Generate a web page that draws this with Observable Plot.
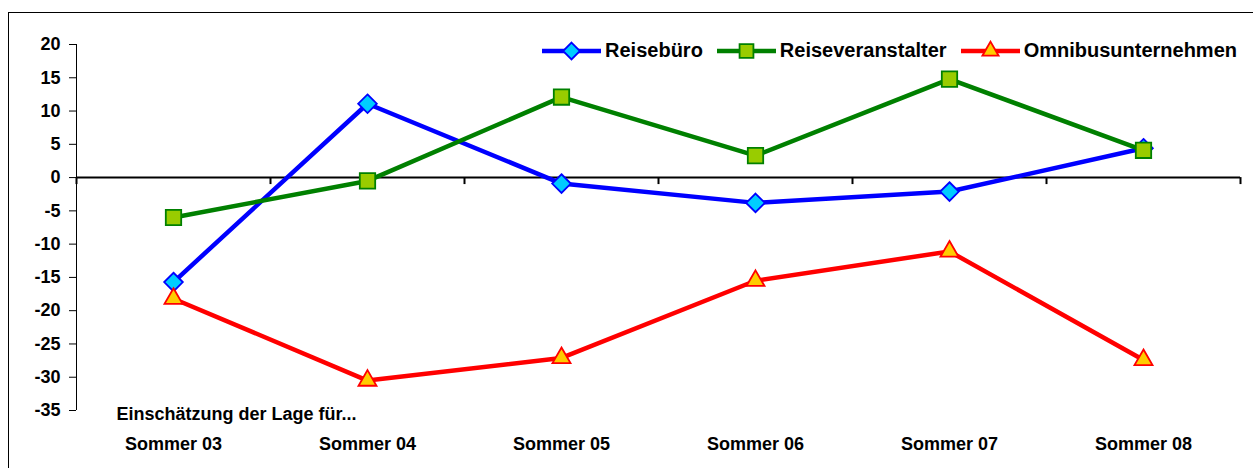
<!DOCTYPE html>
<html>
<head>
<meta charset="utf-8">
<script src="https://cdn.jsdelivr.net/npm/d3@7"></script>
<script src="https://cdn.jsdelivr.net/npm/@observablehq/plot@0.6"></script>
<style>
  html, body { margin: 0; padding: 0; background: #fff; }
  body { width: 1253px; height: 468px; position: relative; overflow: hidden; font-family: "Liberation Sans", Arial, sans-serif; }
  #frame { position: absolute; left: 8px; top: 12px; right: -20px; bottom: -20px; border: 1.5px solid #000; pointer-events: none; }
  #chart { position: absolute; left: 0; top: 0; }
  #legend { position: absolute; top: 39px; right: 16px; display: flex; align-items: center; gap: 14px; font-size: 20px; font-weight: bold; color: #000; }
  .item { display: flex; align-items: center; }
  .item span { margin-left: 4px; }
</style>
</head>
<body>
<div id="chart"></div>
<div id="frame"></div>
<div id="legend"></div>
<script>
// ---- data ----
const categories = ["Sommer 03", "Sommer 04", "Sommer 05", "Sommer 06", "Sommer 07", "Sommer 08"];
const reisebuero = [-15.7, 11.1, -0.9, -3.8, -2.1, 4.4];
const reiseveranstalter = [-6.0, -0.5, 12.1, 3.3, 14.8, 4.1];
const omnibus = [-18.2, -30.5, -27.1, -15.5, -11.1, -27.4];
const seriesNames = ["Reisebüro", "Reiseveranstalter", "Omnibusunternehmen"];
const yTicks = [20, 15, 10, 5, 0, -5, -10, -15, -20, -25, -30, -35];
const xNote = "Einschätzung der Lage für...";

// ---- styles ----
const seriesStyle = [
  {values: reisebuero, stroke: "#0000ff", fill: "#00ccff", symbol: "diamond2", d3symbol: d3.symbolDiamond2, r: 8.4},
  {values: reiseveranstalter, stroke: "#008000", fill: "#99cc00", symbol: "square2", d3symbol: d3.symbolSquare2, r: 9.8},
  {values: omnibus, stroke: "#ff0000", fill: "#ffcc00", symbol: "triangle2", d3symbol: d3.symbolTriangle2, r: 8.6}
];

const rows = seriesNames.map((name, s) =>
  categories.map((c, i) => ({series: name, i, cat: c, value: seriesStyle[s].values[i]}))
);
const boundaries = d3.range(categories.length + 1).map(k => k - 0.5);

const seriesMarks = rows.flatMap((data, s) => [
  Plot.line(data, {x: "i", y: "value", stroke: seriesStyle[s].stroke, strokeWidth: 4.5, strokeLinejoin: "round"}),
  Plot.dot(data, {x: "i", y: "value", symbol: () => seriesStyle[s].symbol, r: seriesStyle[s].r,
    fill: seriesStyle[s].fill, stroke: seriesStyle[s].stroke, strokeWidth: 1.8})
]);

const chart = Plot.plot({
  width: 1253,
  height: 468,
  marginLeft: 76,
  marginRight: 13,
  marginTop: 44,
  marginBottom: 58,
  style: {fontFamily: "'Liberation Sans', Arial, sans-serif", fontSize: "18px", fontWeight: "bold", color: "#000", background: "transparent", overflow: "visible"},
  x: {domain: [-0.5, categories.length - 0.5]},
  y: {domain: [-35, 20]},
  symbol: {type: "identity"},
  marks: [
    Plot.ruleX([-0.5], {y1: -35, y2: 20, stroke: "#000", strokeWidth: 1}),
    Plot.axisY({ticks: yTicks, tickSize: 7, tickPadding: 9, tickFormat: d => String(d), label: null, fontSize: 18}),
    Plot.axisX({ticks: d3.range(categories.length), tickSize: 0, tickPadding: 27, tickFormat: i => categories[i], label: null, fontSize: 18}),
    Plot.ruleY([0], {stroke: "#000", strokeWidth: 2}),
    Plot.ruleX(boundaries, {y1: 0, y2: -1.05, stroke: "#000", strokeWidth: 2}),
    Plot.text([xNote], {frameAnchor: "bottom-left", dx: 40, dy: 4, textAnchor: "start", lineAnchor: "middle", fontSize: 18, fontWeight: "bold"}),
    ...seriesMarks
  ]
});
document.getElementById("chart").appendChild(chart);

// ---- legend ----
const legend = d3.select("#legend");
seriesNames.forEach((name, s) => {
  const st = seriesStyle[s];
  const item = legend.append("div").attr("class", "item");
  const svg = item.append("svg").attr("width", 59).attr("height", 22);
  svg.append("line").attr("x1", 0).attr("x2", 59).attr("y1", 11).attr("y2", 11)
    .attr("stroke", st.stroke).attr("stroke-width", 4.5);
  const rr = st.r * 0.9;
  svg.append("path").attr("transform", "translate(29.5,11)")
    .attr("d", d3.symbol(st.d3symbol, Math.PI * rr * rr)())
    .attr("fill", st.fill).attr("stroke", st.stroke).attr("stroke-width", 1.8);
  item.append("span").text(name);
});
</script>
</body>
</html>
